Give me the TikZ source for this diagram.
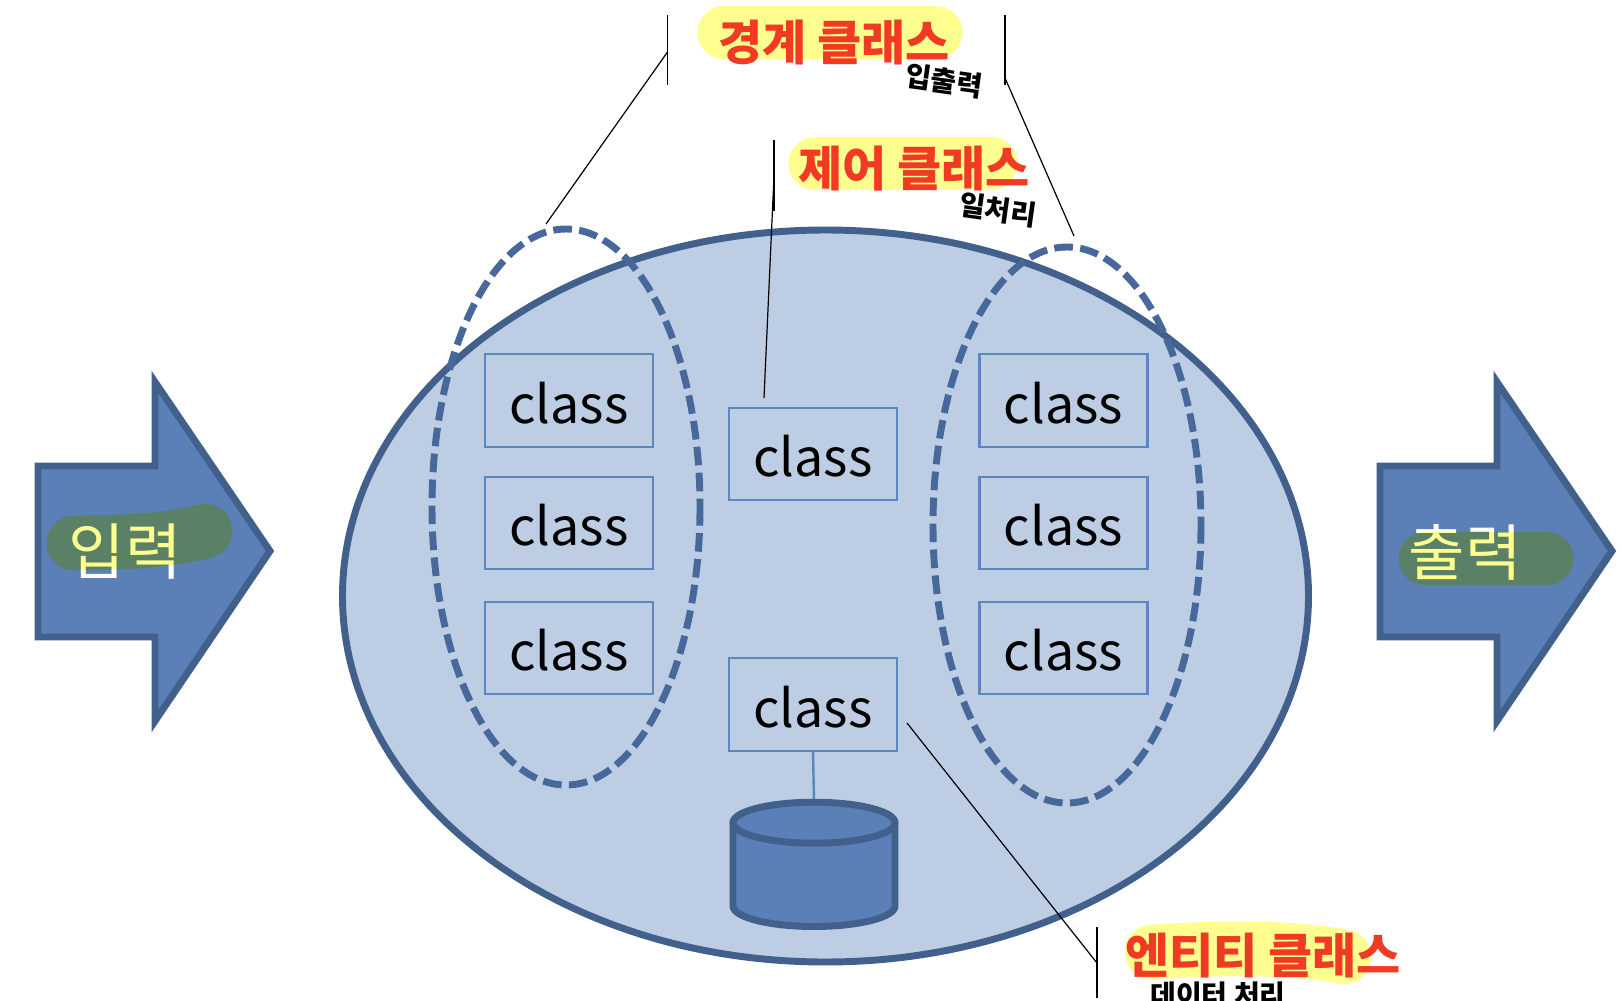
\documentclass[tikz,border=0pt]{standalone}
\usepackage{fontspec}
\setmainfont{Noto Sans CJK KR}
\usetikzlibrary{shapes.geometric}
\definecolor{fillA}{HTML}{BDCEE4}
\definecolor{edge}{HTML}{41608C}
\definecolor{dashc}{HTML}{47689A}
\definecolor{solid}{HTML}{5A80B7}
\definecolor{boxline}{HTML}{5B86BF}
\definecolor{hl}{HTML}{FFFF8F}
\definecolor{redt}{HTML}{F03A24}
\tikzset{
  x=0.75pt,y=-0.75pt,
  classbox/.style={draw=boxline,line width=1.7pt,inner sep=0pt,outer sep=0pt,minimum width=126pt,minimum height=69.5pt,font=\fontsize{39}{44}\selectfont,text=black},
  bigarrow/.style={draw=edge,fill=solid,line width=5.2pt,miter limit=10},
  dashell/.style={draw=dashc,line width=5.2pt,dash pattern=on 14pt off 5.5pt},
  leader/.style={draw=black,line width=0.9pt},
  capsule/.style={draw=hl,line width=39.8pt,line cap=round,line join=round},
  title/.style={font=\fontsize{36}{40}\selectfont\bfseries,text=redt,inner sep=0pt},
  io/.style={font=\fontsize{46}{50}\selectfont,text=white,inner sep=0pt},
  handw/.style={font=\fontsize{21}{25}\selectfont\bfseries,text=black,inner sep=0pt},
}
\newcommand{\clsname}{\raisebox{-17pt}[0pt][0pt]{class}}
\begin{document}
\begin{tikzpicture}
\useasboundingbox (0,0) rectangle (1621,1000);
% main ellipse
\draw[fill=fillA,draw=edge,line width=5.2pt] (825.5,596) ellipse [x radius=483,y radius=366];
% dashed groups
\draw[dashell] (566,507) ellipse [x radius=134,y radius=278];
\draw[dashell] (1067,525) ellipse [x radius=134,y radius=278];
% class boxes
\node[classbox] (l1) at (569,400.5) {\clsname};
\node[classbox] (l2) at (569,523) {\clsname};
\node[classbox] (l3) at (569,648) {\clsname};
\node[classbox] (c1) at (813,454) {\clsname};
\node[classbox] (c2) at (813,704.5) {\clsname};
\node[classbox] (r1) at (1063.5,400.5) {\clsname};
\node[classbox] (r2) at (1063.5,523) {\clsname};
\node[classbox] (r3) at (1063.5,648) {\clsname};
% cylinder
\coordinate (dbtop) at (814,802);
\draw[draw=boxline,line width=1.8pt] (c2.south) -- (dbtop);
\draw[fill=solid,draw=edge,line width=5.2pt,line join=round]
  (733,822.7) -- (733,906) arc[start angle=180,end angle=0,x radius=81,y radius=20.5] -- (895,822.7) -- cycle;
\draw[fill=solid,draw=edge,line width=5.2pt] (814,822.7) ellipse [x radius=81,y radius=20.5];
% arrows
\draw[bigarrow] (38,466) -- (155,466) -- (155,382) -- (270,551) -- (155,721) -- (155,637) -- (38,637) -- cycle;
\draw[bigarrow] (1380,466) -- (1497,466) -- (1497,382) -- (1612,551) -- (1497,721) -- (1497,637) -- (1380,637) -- cycle;
% io text, covered by multiply highlight
\node[io] (in) at (125,552) {입력};
\node[io] (out) at (1465,552) {출력};
\begin{scope}[blend mode=multiply]
\draw[capsule,line width=41pt] (74,543) .. controls (120,542) and (165,542) .. (205,531);
\draw[capsule] (1425,558.5) -- (1547,558.5);
\end{scope}
% highlights
\draw[capsule] (724,32.5) -- (936,32.5);
\draw[capsule] (815,163.5) -- (991,163.5);
\draw[capsule,line width=41pt] (1152,952) .. controls (1210,948) and (1290,946) .. (1344,957);
% titles
\node[title] (t1) at (834,42) {경계 클래스};
\node[title] (t2) at (914,169) {제어 클래스};
\node[title] (t3) at (1263,956) {엔티티 클래스};
% handwriting
\node[handw,rotate=-8] (h1) at (944,81) {입출력};
\node[handw,rotate=-8] (h2) at (998,210) {일처리};
\node[handw,anchor=north] (h3) at (1218,982) {데이터 처리};
% brackets and leaders
\coordinate (b1a) at (667.5,15); \coordinate (b1b) at (667.5,85);
\coordinate (b1m) at (667.5,52); \coordinate (b1e) at (546,224);
\draw[leader] (b1a) -- (b1b); \draw[leader] (b1m) -- (b1e);
\coordinate (b2a) at (1005,15); \coordinate (b2b) at (1005,85);
\coordinate (b2m) at (1005,78); \coordinate (b2e) at (1074,236);
\draw[leader] (b2a) -- (b2b); \draw[leader] (b2m) -- (b2e);
\coordinate (b3a) at (774,140); \coordinate (b3b) at (774,211);
\coordinate (b3m) at (774,176); \coordinate (b3e) at (764,398);
\draw[leader] (b3a) -- (b3b); \draw[leader] (b3m) -- (b3e);
\coordinate (b4a) at (1097,927); \coordinate (b4b) at (1097,998);
\coordinate (b4m) at (1097,963); \coordinate (b4e) at (907,723);
\draw[leader] (b4a) -- (b4b); \draw[leader] (b4m) -- (b4e);
\end{tikzpicture}
\end{document}
